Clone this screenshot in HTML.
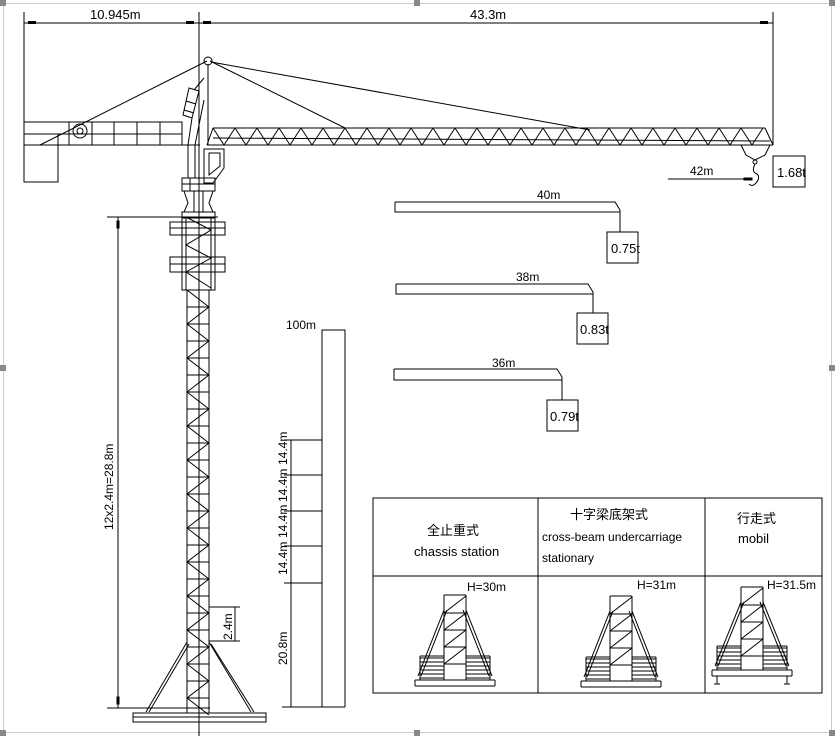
<!DOCTYPE html>
<html><head><meta charset="utf-8"><style>
body{margin:0;background:#fff}
svg{display:block}
text{font-family:"Liberation Sans Narrow","Liberation Sans","Noto Sans CJK SC",sans-serif;fill:#000}
</style></head><body>
<svg id="s" width="835" height="736" viewBox="0 0 835 736" xmlns="http://www.w3.org/2000/svg" stroke="#000" fill="none" stroke-width="1">
<rect x="3.5" y="3.5" width="828" height="729" stroke="#999" stroke-dasharray="1,1"/>
<g fill="#888" stroke="none">
<rect x="0" y="0" width="6" height="6"/><rect x="414" y="0" width="6" height="6"/><rect x="829" y="0" width="6" height="6"/>
<rect x="0" y="365" width="6" height="6"/><rect x="829" y="365" width="6" height="6"/>
<rect x="0" y="730" width="6" height="6"/><rect x="414" y="730" width="6" height="6"/><rect x="829" y="730" width="6" height="6"/>
</g>
<!-- top dimension -->
<line x1="24" y1="23" x2="773" y2="23"/>
<line x1="24" y1="12" x2="24" y2="182"/>
<line x1="199" y1="12" x2="199" y2="736"/>
<line x1="773" y1="12" x2="773" y2="145"/>
<g fill="#000" stroke="none"><rect x="28" y="21" width="8" height="3"/><rect x="186" y="21" width="8" height="3"/><rect x="203" y="21" width="8" height="3"/><rect x="760" y="21" width="8" height="3"/></g>
<text x="90" y="19" font-size="13" stroke="none">10.945m</text>
<text x="470" y="19" font-size="13" stroke="none">43.3m</text>
<!-- counter jib -->
<rect x="24" y="122" width="158" height="23"/>
<line x1="24" y1="134" x2="182" y2="134"/>
<line x1="69" y1="122" x2="69" y2="145"/><line x1="92" y1="122" x2="92" y2="145"/><line x1="114" y1="122" x2="114" y2="145"/><line x1="137" y1="122" x2="137" y2="145"/><line x1="160" y1="122" x2="160" y2="145"/>
<polyline points="24,145 24,182 58,182 58,134"/>
<circle cx="80" cy="131" r="7"/><circle cx="80" cy="131" r="3"/>
<line x1="40" y1="145" x2="207" y2="61"/>
<line x1="182" y1="145" x2="200" y2="145"/>
<!-- tower head -->
<circle cx="208" cy="61" r="4"/>
<line x1="208" y1="64" x2="208" y2="145"/>
<line x1="210" y1="61" x2="345" y2="128"/>
<line x1="211" y1="62" x2="590" y2="130"/>
<polygon points="189,88 199,91 192,118 183,115"/>
<line x1="186" y1="101" x2="196" y2="104"/><line x1="184" y1="110" x2="194" y2="113"/>
<line x1="194" y1="90" x2="204" y2="78"/>
<polyline points="192,118 188,145 188,178"/><polyline points="204,100 195,145 195,178"/>
<!-- main jib -->
<line x1="213" y1="128" x2="765" y2="128"/>
<line x1="207" y1="145" x2="773" y2="145"/>
<line x1="213" y1="138" x2="770" y2="141"/>
<line x1="765" y1="128" x2="773" y2="145"/>
<line x1="213" y1="128" x2="207" y2="145"/>
<g id="jz"></g>
<!-- trolley & hook -->
<polyline points="741,145 746,155 755,160 765,155 770,145"/>
<circle cx="755" cy="162" r="2"/>
<path d="M755,164 q-4,8 2,10 q4,4 -2,10 q-3,3 -6,0"/>
<line x1="668" y1="179" x2="752" y2="179"/>
<rect x="744" y="178" width="8" height="2" fill="#000"/>
<text x="690" y="175" font-size="12" stroke="none">42m</text>
<rect x="773" y="156" width="32" height="31"/>
<text x="777" y="177" font-size="13" stroke="none">1.68t</text>
<!-- cab -->
<path d="M204,149 H224 V168 L213,183 H204 Z"/>
<path d="M209,153 H220 V166 L209,175 Z"/>
<!-- slewing -->
<rect x="182" y="178" width="33" height="13"/><line x1="182" y1="184" x2="215" y2="184"/><line x1="190" y1="178" x2="190" y2="191"/>
<path d="M184,191 L188,203 L184,212 M213,191 L209,203 L213,212 M194,191 V212 M203,191 V212"/>
<rect x="182" y="212" width="33" height="6"/>
<!-- upper mast section -->
<rect x="182" y="217" width="33" height="73"/>
<rect x="170" y="222" width="55" height="13"/><line x1="170" y1="228" x2="225" y2="228"/>
<rect x="170" y="257" width="55" height="15"/><line x1="170" y1="264" x2="225" y2="264"/>
<line x1="186" y1="217" x2="186" y2="290"/><line x1="211" y1="217" x2="211" y2="290"/>
<polyline points="186,217 211,230 186,245 211,258 186,272 211,288"/>
<!-- lower mast -->
<line x1="187" y1="290" x2="187" y2="713"/><line x1="209" y1="290" x2="209" y2="713"/>
<g id="mz"></g>
<!-- legs & base -->
<line x1="187" y1="642" x2="146" y2="712"/><line x1="189" y1="644" x2="149" y2="712"/>
<line x1="209" y1="642" x2="251" y2="712"/><line x1="211" y1="644" x2="254" y2="712"/>
<rect x="133" y="713" width="133" height="9"/><line x1="133" y1="717" x2="266" y2="717"/>
<!-- left dimension -->
<line x1="107" y1="217" x2="218" y2="217"/>
<line x1="107" y1="708" x2="210" y2="708"/>
<line x1="118" y1="217" x2="118" y2="708"/>
<rect x="117" y="221" width="2" height="7" fill="#000"/><rect x="117" y="697" width="2" height="7" fill="#000"/>
<text transform="translate(113,530) rotate(-90)" font-size="12" stroke="none">12x2.4m=28.8m</text>
<!-- 2.4m -->
<line x1="209" y1="607" x2="240" y2="607"/><line x1="209" y1="641" x2="240" y2="641"/>
<line x1="235" y1="607" x2="235" y2="641"/>
<text transform="translate(232,640) rotate(-90)" font-size="12" stroke="none">2.4m</text>
<!-- height chart -->
<polyline points="322,707 322,330 345,330 345,707"/>
<line x1="282" y1="707" x2="345" y2="707"/>
<text x="286" y="329" font-size="12" stroke="none">100m</text>
<line x1="291" y1="440" x2="291" y2="707"/>
<g id="hc"></g>
<text transform="translate(287,465) rotate(-90)" font-size="12" stroke="none">14.4m</text>
<text transform="translate(287,502) rotate(-90)" font-size="12" stroke="none">14.4m</text>
<text transform="translate(287,538) rotate(-90)" font-size="12" stroke="none">14.4m</text>
<text transform="translate(287,575) rotate(-90)" font-size="12" stroke="none">14.4m</text>
<text transform="translate(287,665) rotate(-90)" font-size="12" stroke="none">20.8m</text>
<!-- load diagrams -->
<path d="M395,202 H615 L620,210 V232 M395,202 V212 H620"/>
<rect x="607" y="232" width="31" height="31"/>
<text x="537" y="199" font-size="12" stroke="none">40m</text>
<text x="611" y="253" font-size="13" stroke="none">0.75t</text>
<path d="M396,284 H588 L593,292 V313 M396,284 V294 H593"/>
<rect x="577" y="313" width="31" height="31"/>
<text x="516" y="281" font-size="12" stroke="none">38m</text>
<text x="580" y="334" font-size="13" stroke="none">0.83t</text>
<path d="M394,369 H557 L562,377 V400 M394,369 V380 H562"/>
<rect x="547" y="400" width="31" height="31"/>
<text x="492" y="367" font-size="12" stroke="none">36m</text>
<text x="550" y="421" font-size="13" stroke="none">0.79t</text>
<!-- table -->
<rect x="373" y="498" width="449" height="195"/>
<line x1="373" y1="576" x2="822" y2="576"/>
<line x1="538" y1="498" x2="538" y2="693"/><line x1="705" y1="498" x2="705" y2="693"/>
<g stroke="none" font-size="13">
<text x="427" y="535">全止重式</text>
<text x="414" y="556">chassis station</text>
<text x="570" y="519">十字梁底架式</text>
<text x="542" y="541" font-size="12">cross-beam undercarriage</text>
<text x="542" y="562" font-size="12">stationary</text>
<text x="737" y="523">行走式</text>
<text x="738" y="543">mobil</text>
<text x="467" y="591" font-size="12">H=30m</text>
<text x="637" y="589" font-size="12">H=31m</text>
<text x="767" y="589" font-size="12">H=31.5m</text>
</g>
<g id="tb"></g>
</svg>
<script>
var ns="http://www.w3.org/2000/svg";
function L(g,x1,y1,x2,y2,extra){var l=document.createElementNS(ns,"line");l.setAttribute("x1",x1);l.setAttribute("y1",y1);l.setAttribute("x2",x2);l.setAttribute("y2",y2);if(extra)for(var k in extra)l.setAttribute(k,extra[k]);document.getElementById(g).appendChild(l);}
// jib zigzag
var x=213,up=true;while(x<760){L("jz",x,up?128:145,x+11,up?145:128);x+=11;up=!up;}
// mast zigzag
var y=290,left=true;while(y<705){L("mz",left?187:209,y,left?209:187,y+17);L("mz",187,y,209,y);y+=17;left=!left;}
// height chart lines
[440,475,511,546,583].forEach(function(v){L("hc",284,v,322,v);});
// table cranes
function crane(cx,top,bot,mobile){
 var g="tb";var w=22;var l=cx-w/2,r=cx+w/2;
 L(g,l,top,r,top);L(g,l,top,l,bot);L(g,r,top,r,bot);
 for(var y=top+18;y<bot;y+=17){L(g,l,y,r,y);L(g,l,y,r,y-17);}
 L(g,cx-40,bot,cx+40,bot);L(g,cx-40,bot+6,cx+40,bot+6);L(g,cx-40,bot,cx-40,bot+6);L(g,cx+40,bot,cx+40,bot+6);
 L(g,l,top+15,cx-37,bot-4);L(g,l+3,top+15,cx-34,bot-4);L(g,r,top+15,cx+37,bot-4);L(g,r-3,top+15,cx+34,bot-4);
 for(var y=bot-22;y<bot;y+=4){L(g,cx-35,y,l,y);L(g,r,y,cx+35,y);}
 L(g,cx-35,bot-24,l,bot-24);L(g,r,bot-24,cx+35,bot-24);L(g,cx-35,bot-24,cx-35,bot);L(g,cx+35,bot-24,cx+35,bot);
 if(mobile){L(g,cx-35,bot+6,cx-35,bot+14);L(g,cx+35,bot+6,cx+35,bot+14);L(g,cx-38,bot+14,cx-32,bot+14);L(g,cx+32,bot+14,cx+38,bot+14);}
}
crane(455,595,680,false);crane(621,596,681,false);crane(752,587,670,true);
</script>
</body></html>
